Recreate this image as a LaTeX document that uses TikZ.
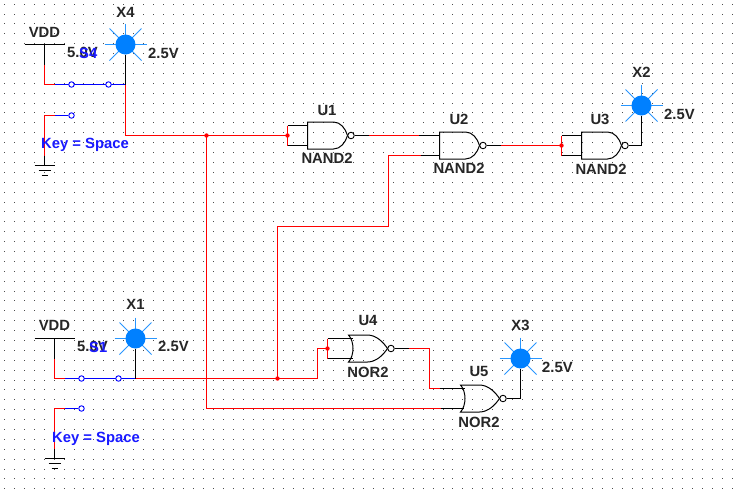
\documentclass[tikz,border=0pt]{standalone}
\usepackage{fontspec}
\setmainfont{Liberation Sans}
\definecolor{wred}{RGB}{255,0,0}
\definecolor{wblue}{RGB}{0,0,255}
\definecolor{ledblue}{RGB}{0,128,255}
\definecolor{rayblue}{RGB}{40,150,255}
\tikzset{
  x=1pt,y=-1pt,
  lbl/.style={font=\fontsize{14.8}{16}\selectfont\bfseries,inner sep=0pt,text=black!85},
  keylbl/.style={lbl,text=wblue!90!white},
  blk/.style={draw=black,line width=1pt},
  rw/.style={draw=wred,line width=1pt},
  bw/.style={draw=wblue,line width=1pt},
  thin ray/.style={draw=rayblue,line width=.8pt},
  contact/.style={circle,draw=wblue,fill=white,line width=.9pt,minimum size=5.5pt,inner sep=0pt},
  bubble/.style={circle,draw=black,fill=white,line width=.9pt,minimum size=6.5pt,inner sep=0pt},
  jdot/.style={circle,fill=wred,minimum size=4.4pt,inner sep=0pt},
  ledcore/.style={circle,fill=ledblue,minimum size=20pt,inner sep=0pt},
}
% LED: name, x, y
\newcommand{\ledsym}[3]{%
  \draw[thin ray] (#2-21,#3) -- (#2+21,#3);
  \draw[thin ray] (#2,#3-21) -- (#2,#3);
  \draw[thin ray] (#2-16,#3-16) -- (#2+16,#3+16);
  \draw[thin ray] (#2-16,#3+16) -- (#2+16,#3-16);
  \node[ledcore] (#1) at (#2,#3) {};
}
% NAND: name, left x, mid y
\newcommand{\nandsym}[3]{%
  \draw[blk] (#2,#3-13.5) -- (#2+26,#3-13.5) .. controls (#2+33,#3-13.5) and (#2+38,#3-7) .. (#2+40,#3)
     .. controls (#2+38,#3+7) and (#2+33,#3+13.5) .. (#2+26,#3+13.5) -- (#2,#3+13.5) -- cycle;
  \node[bubble] (#1) at (#2+43.5,#3) {};
}
% NOR: name, left x, mid y
\newcommand{\norsym}[3]{%
  \draw[blk] (#2,#3-13.5) -- (#2+19,#3-13.5) .. controls (#2+28,#3-13.5) and (#2+35,#3-6) .. (#2+39,#3)
     .. controls (#2+35,#3+6) and (#2+28,#3+13.5) .. (#2+19,#3+13.5) -- (#2,#3+13.5)
     .. controls (#2+6,#3+7) and (#2+6,#3-7) .. (#2,#3-13.5) -- cycle;
  \node[bubble] (#1) at (#2+42.5,#3) {};
}
\begin{document}
\begin{tikzpicture}
\useasboundingbox (0,0) rectangle (742,499);
\fill[white] (0,0) rectangle (742,499);
% grid dots
\foreach \i in {0,...,73}{\foreach \j in {0,...,49}{
  \fill[black!70] ({3.7+\i*9.973},{3.7+\j*9.89}) rectangle ++(1,1);
}}
\begin{scope}[shift={(0.5,0.5)}]
% ---------- top switch block
\coordinate (vddA) at (44,44);
\coordinate (vddAred) at (44,64);
\coordinate (cornerA) at (44,84);
\coordinate (blueA) at (54,84);
\coordinate (nodeA) at (125,84);
\draw[blk] (24,44) -- (64,44);
\draw[blk] (vddA) -- (vddAred);
\draw[rw] (vddAred) -- (cornerA) -- (blueA);
\draw[bw] (blueA) -- (nodeA);
\node[contact] (sAa) at (71,84) {};
\node[contact] (sAb) at (108,84) {};
\node[contact] (sAc) at (71,115) {};
\coordinate (blueA2) at (54,115);
\coordinate (cornerA2) at (44,115);
\coordinate (gndAred) at (44,155);
\coordinate (gndA) at (44,165);
\draw[bw] (sAc) -- (blueA2);
\draw[rw] (blueA2) -- (cornerA2) -- (gndAred);
\draw[blk] (gndAred) -- (gndA);
\draw[blk] (34,165) -- (54,165);
\draw[blk] (38,170) -- (50,170);
\draw[blk] (41,175) -- (47,175);
\node[lbl] (vddAt) at (44,31.5) {VDD};
\node[lbl,anchor=west] (vAt) at (66.5,52) {5.0V};
\node[keylbl,anchor=east] (sAt) at (97,53) {S4};
\node[keylbl,anchor=west] (keyAt) at (40.5,144.5) {Key = Space};

% X4
\ledsym{ledA}{125}{44}
\draw[blk] (ledA.south) -- (nodeA);
\node[lbl] (xAt) at (125,11.5) {X4};
\node[lbl,anchor=west] (xAv) at (147.5,52.5) {2.5V};

% ---------- bottom switch block
\coordinate (vddB) at (54,338);
\coordinate (vddBred) at (54,358);
\coordinate (cornerB) at (54,378);
\coordinate (blueB) at (64,378);
\coordinate (nodeB) at (135,378);
\draw[blk] (34,338) -- (74,338);
\draw[blk] (vddB) -- (vddBred);
\draw[rw] (vddBred) -- (cornerB) -- (blueB);
\draw[bw] (blueB) -- (nodeB);
\node[contact] (sBa) at (81,378) {};
\node[contact] (sBb) at (118,378) {};
\node[contact] (sBc) at (81,408) {};
\coordinate (blueB2) at (64,408);
\coordinate (cornerB2) at (54,408);
\coordinate (gndBred) at (54,448);
\coordinate (gndB) at (54,458);
\draw[bw] (sBc) -- (blueB2);
\draw[rw] (blueB2) -- (cornerB2) -- (gndBred);
\draw[blk] (gndBred) -- (gndB);
\draw[blk] (44,458) -- (64,458);
\draw[blk] (48,463) -- (60,463);
\draw[blk] (51,468) -- (57,468);
\node[lbl] (vddBt) at (54,324.5) {VDD};
\node[lbl,anchor=west] (vBt) at (76.5,346) {5.0V};
\node[keylbl,anchor=east] (sBt) at (107,347) {S1};
\node[keylbl,anchor=west] (keyBt) at (51.5,438.5) {Key = Space};

% X1
\ledsym{ledB}{135}{338}
\draw[blk] (ledB.south) -- (nodeB);
\node[lbl] (xBt) at (135,303.5) {X1};
\node[lbl,anchor=west] (xBv) at (157.5,345.5) {2.5V};

% ---------- gates
\nandsym{bU1}{307}{135}
\nandsym{bU2}{439}{145}
\nandsym{bU3}{581}{145}
\norsym{bU4}{348}{348}
\norsym{bU5}{460}{398}
\node[lbl] (tU1) at (326.5,109.5) {U1};
\node[lbl] (nU1) at (326.5,158) {NAND2};
\node[lbl] (tU2) at (458.5,118.5) {U2};
\node[lbl] (nU2) at (458.5,168) {NAND2};
\node[lbl] (tU3) at (599.5,118.5) {U3};
\node[lbl] (nU3) at (600.5,168.5) {NAND2};
\node[lbl] (tU4) at (367.5,319.5) {U4};
\node[lbl] (nU4) at (367.5,371.5) {NOR2};
\node[lbl] (tU5) at (478.5,370.5) {U5};
\node[lbl] (nU5) at (478.5,421.5) {NOR2};

% ---------- red network
\coordinate (a1) at (125,135);
\coordinate (jA) at (206,135);
\coordinate (jU1) at (287,135);
\coordinate (c1) at (206,408);
\coordinate (c2) at (440,408);
\coordinate (jB) at (277,378);
\coordinate (c3) at (317,378);
\coordinate (c4) at (317,348);
\coordinate (jU4) at (327,348);
\coordinate (c5) at (277,226);
\coordinate (c6) at (388,226);
\coordinate (c7) at (388,155);
\coordinate (c8) at (420,155);
\draw[rw] (nodeA) -- (a1) -- (jU1);
\draw[rw] (jA) -- (c1) -- (c2);
\draw[blk] (c2) -- (463.5,408);
\draw[rw] (nodeB) -- (c3) -- (c4) -- (jU4);
\draw[rw] (jB) -- (c5) -- (c6) -- (c7) -- (c8);
\draw[blk] (c8) -- (439,155);

% U1 inputs and output
\draw[rw] (287,125) -- (287,145);
\draw[blk] (287,125) -- (307,125);
\draw[blk] (287,145) -- (307,145);
\coordinate (o1a) at (368,135);
\coordinate (o1b) at (418,135);
\draw[blk] (bU1.east) -- (o1a);
\draw[rw] (o1a) -- (o1b);
\draw[blk] (o1b) -- (439,135);

% U2 output, U3
\coordinate (o2a) at (500,145);
\coordinate (jU3) at (561,145);
\draw[blk] (bU2.east) -- (o2a);
\draw[rw] (o2a) -- (jU3);
\draw[rw] (561,135) -- (561,155);
\draw[blk] (561,135) -- (581,135);
\draw[blk] (561,155) -- (581,155);

% X2
\ledsym{ledC}{641}{105}
\coordinate (o3a) at (641,145);
\draw[blk] (bU3.east) -- (o3a) -- (ledC.south);
\node[lbl] (xCt) at (641,71.5) {X2};
\node[lbl,anchor=west] (xCv) at (663.5,113.5) {2.5V};

% U4 inputs/output
\draw[rw] (327,338) -- (327,358);
\draw[blk] (327,338) -- (352,338);
\draw[blk] (327,358) -- (352,358);
\coordinate (o4a) at (408,348);
\coordinate (o4b) at (429,348);
\coordinate (o4c) at (429,388);
\coordinate (o4d) at (439,388);
\draw[blk] (bU4.east) -- (o4a);
\draw[rw] (o4a) -- (o4b) -- (o4c) -- (o4d);
\draw[blk] (o4d) -- (464,388);

% X3
\ledsym{ledD}{520}{358}
\coordinate (o5a) at (520,398);
\draw[blk] (bU5.east) -- (o5a) -- (ledD.south);
\node[lbl] (xDt) at (520,324.5) {X3};
\node[lbl,anchor=west] (xDv) at (541.5,366.5) {2.5V};

% junction dots
\node[jdot] (dA) at (jA) {};
\node[jdot] (dU1) at (jU1) {};
\node[jdot] (dB) at (jB) {};
\node[jdot] (dU4) at (jU4) {};
\node[jdot] (dU3) at (jU3) {};
\end{scope}
\end{tikzpicture}
\end{document}
